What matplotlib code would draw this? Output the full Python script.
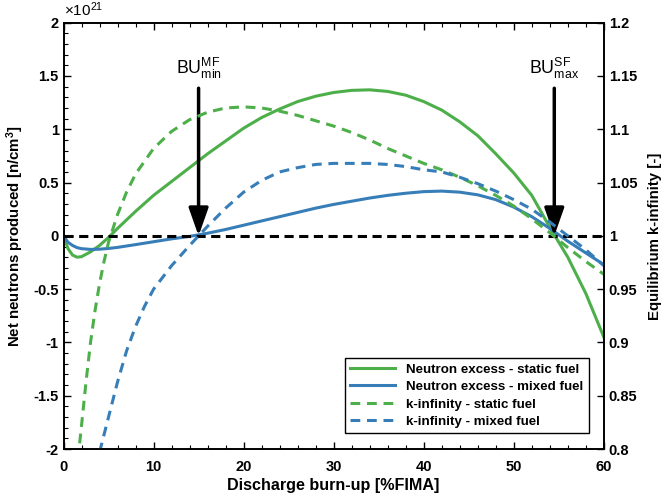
import matplotlib
matplotlib.use('Agg')
import matplotlib.pyplot as plt
from matplotlib.ticker import MultipleLocator, FormatStrFormatter

plt.rcParams['font.family'] = ['Liberation Sans', 'DejaVu Sans']
plt.rcParams['axes.unicode_minus'] = False
plt.rcParams['mathtext.fontset'] = 'custom'
plt.rcParams['mathtext.rm'] = 'Liberation Sans'

# neutron excess [x1e21 n/cm3]
bu_ne = [0, 0.5, 1, 1.5, 2, 3, 4, 5, 6, 7, 8, 10, 12, 14, 16, 18, 20, 22, 24, 26,
         28, 30, 32, 34, 36, 38, 40, 42, 44, 46, 48, 50, 52, 54, 55, 56, 58, 60]
ne_static = [0, -0.12, -0.18, -0.2, -0.195, -0.15, -0.09, -0.015, 0.07, 0.15, 0.23,
             0.38, 0.51, 0.64, 0.77, 0.89, 1.01, 1.11, 1.19, 1.26, 1.31, 1.345,
             1.365, 1.37, 1.355, 1.32, 1.26, 1.18, 1.07, 0.94, 0.77, 0.59, 0.38,
             0.08, -0.06, -0.2, -0.54, -0.95]
ne_mixed = [0, -0.06, -0.09, -0.11, -0.12, -0.127, -0.125, -0.118, -0.108, -0.095,
            -0.082, -0.055, -0.028, -0.005, 0.025, 0.06, 0.1, 0.14, 0.18, 0.22,
            0.26, 0.295, 0.325, 0.355, 0.38, 0.4, 0.415, 0.42, 0.41, 0.385, 0.34,
            0.27, 0.18, 0.07, 0.01, -0.05, -0.16, -0.27]

# equilibrium k-infinity
bu_ks = [1.6, 2, 2.5, 3, 3.5, 4, 4.5, 5, 6, 7, 8, 10, 12, 14, 16, 18, 20, 22, 24,
         26, 28, 30, 32, 34, 36, 38, 40, 42, 44, 46, 48, 50, 52, 54, 56, 58, 60]
k_static = [0.79, 0.822, 0.863, 0.9, 0.93, 0.955, 0.976, 0.994, 1.02, 1.041, 1.058,
            1.082, 1.098, 1.109, 1.116, 1.12, 1.121, 1.12, 1.117, 1.113, 1.108,
            1.103, 1.097, 1.09, 1.082, 1.075, 1.068, 1.062, 1.055, 1.047, 1.038,
            1.028, 1.016, 1.003, 0.989, 0.976, 0.964]
bu_km = [4.0, 5, 6, 7, 8, 9, 10, 12, 14, 16, 18, 20, 22, 24, 26, 28, 30, 32, 34,
         36, 38, 40, 42, 44, 46, 48, 50, 52, 54, 56, 58, 60]
k_mixed = [0.797, 0.83, 0.863, 0.892, 0.915, 0.934, 0.95, 0.972, 0.991, 1.009,
           1.026, 1.041, 1.052, 1.06, 1.064, 1.067, 1.068, 1.068, 1.068, 1.067,
           1.065, 1.062, 1.06, 1.055, 1.049, 1.042, 1.034, 1.025, 1.013, 1.0,
           0.987, 0.972]

bu_min_mf = 15
bu_max_sf = 54.5

green = '#4daf4a'
blue = '#377eb8'

fig = plt.figure(figsize=(6.65, 5.04), dpi=100)
ax = fig.add_axes([0.0955, 0.109, 0.8125, 0.846])
ax2 = ax.twinx()

l1, = ax.plot(bu_ne, ne_static, color=green, lw=2.2, label='Neutron excess - static fuel')
l2, = ax.plot(bu_ne, ne_mixed, color=blue, lw=2.2, label='Neutron excess - mixed fuel')
l3, = ax2.plot(bu_ks, k_static, color=green, lw=2.2, dashes=(3.2, 2.2),
               label='k-infinity - static fuel')
l4, = ax2.plot(bu_km, k_mixed, color=blue, lw=2.2, dashes=(3.2, 2.2),
               label='k-infinity - mixed fuel')
ax.axhline(0, color='k', lw=2.2, dashes=(3, 1.8), zorder=3)

for bu, lab in [(bu_min_mf, r'$\mathregular{BU_{min}^{MF}}$'),
                (bu_max_sf, r'$\mathregular{BU_{max}^{SF}}$')]:
    ax.annotate('', xy=(bu, 0), xytext=(bu, 1.385),
                arrowprops=dict(arrowstyle='-|>,head_length=1.7,head_width=0.6',
                                color='k', lw=2.5, shrinkA=0, shrinkB=0), zorder=5)
    ax.text(bu, 1.45, lab, ha='center', va='bottom', fontsize=12.8)

ax.set_xlim(0, 60)
ax.set_ylim(-2, 2)
ax2.set_ylim(0.8, 1.2)
ax.xaxis.set_major_locator(MultipleLocator(10))
ax.xaxis.set_minor_locator(MultipleLocator(2))
ax.yaxis.set_major_locator(MultipleLocator(0.5))
ax.yaxis.set_minor_locator(MultipleLocator(0.1))
ax.yaxis.set_major_formatter(FormatStrFormatter('%g'))
ax2.yaxis.set_major_locator(MultipleLocator(0.05))
ax2.yaxis.set_major_formatter(FormatStrFormatter('%g'))
ax.tick_params(which='both', direction='in', top=True, right=False, labelsize=10.5)
ax.tick_params(which='major', length=5, width=1)
ax.tick_params(which='minor', length=3, width=0.8)
ax.tick_params(axis='x', which='major', pad=8)
ax2.tick_params(which='major', direction='in', length=5, width=1, labelsize=10.5)
for lbl in ax.get_xticklabels() + ax.get_yticklabels() + ax2.get_yticklabels():
    lbl.set_fontweight('bold')
for a in (ax, ax2):
    for s in a.spines.values():
        s.set_linewidth(1.2)

ax.text(0, 1.008, r'$\mathregular{\times10^{21}}$', transform=ax.transAxes,
        fontsize=11, ha='left', va='bottom')
ax.set_xlabel('Discharge burn-up [%FIMA]', fontsize=11.6, fontweight='bold', labelpad=3)
ax.set_ylabel(r'Net neutrons produced [n/cm$\mathregular{^3}$]', fontsize=10.8,
              fontweight='bold', labelpad=5)
ax2.set_ylabel('Equilibrium k-infinity [-]', fontsize=10.8, fontweight='bold', labelpad=8)

leg = ax2.legend(handles=[l1, l2, l3, l4], loc='lower right',
                 bbox_to_anchor=(0.972, 0.037), fancybox=False, edgecolor='k',
                 framealpha=1, handlelength=3.4, borderaxespad=0,
                 prop={'weight': 'bold', 'size': 9.6}, labelspacing=0.38)
leg.get_frame().set_linewidth(1)

fig.savefig('out.png', dpi=100)
